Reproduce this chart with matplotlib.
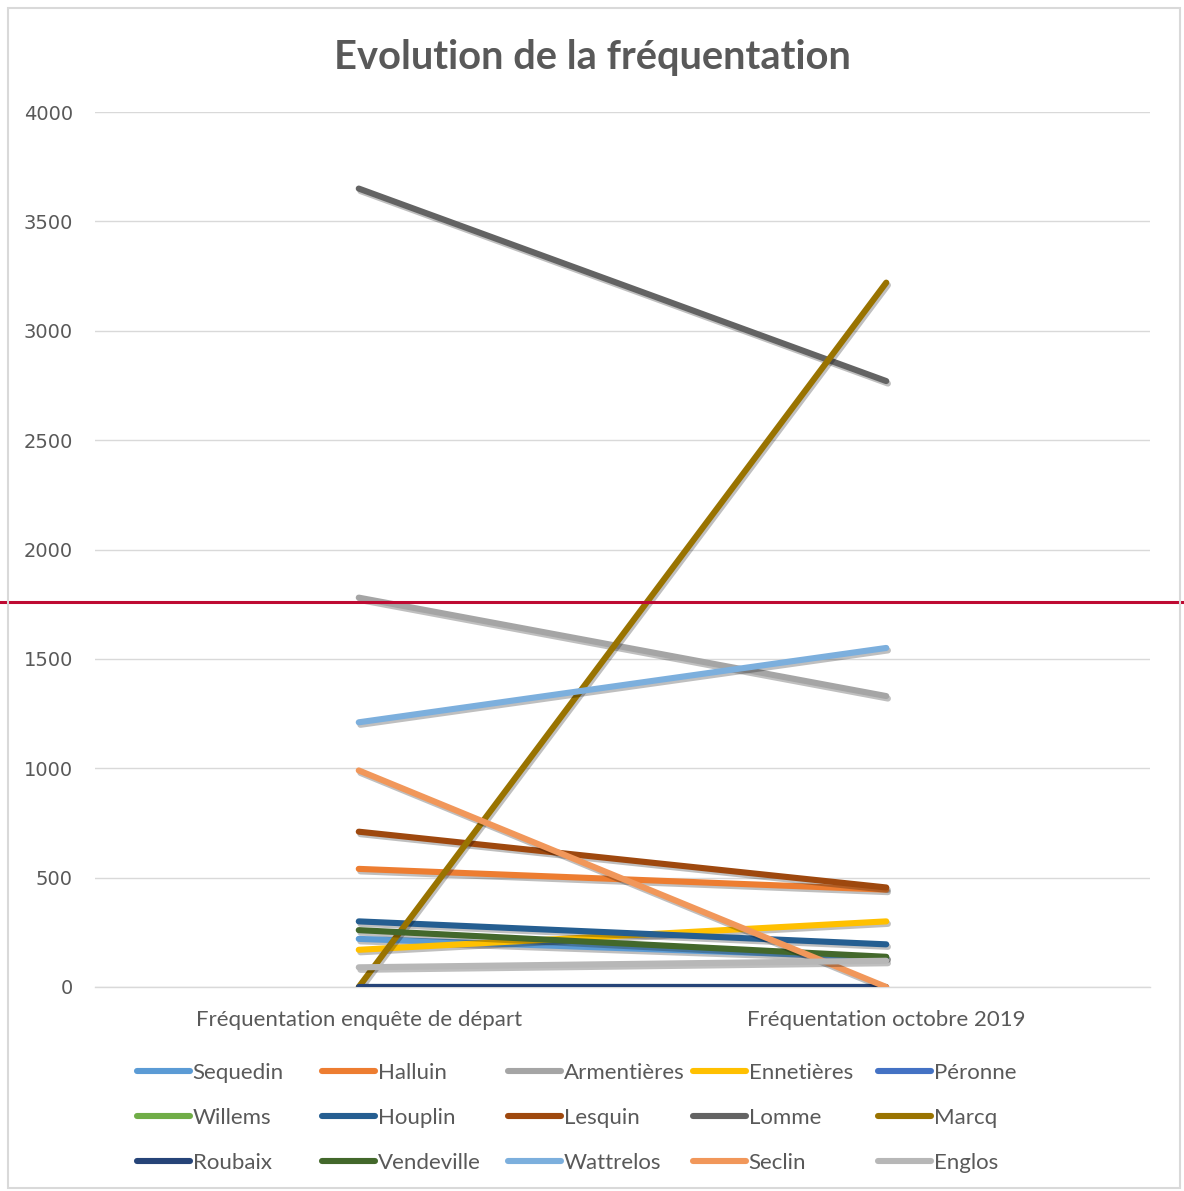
import matplotlib
matplotlib.use("Agg")
import matplotlib.pyplot as plt
import matplotlib.patheffects as pe
from matplotlib.lines import Line2D
from matplotlib.patches import Rectangle

# Survey points
periods = ["Fréquentation enquête de départ", "Fréquentation octobre 2019"]

# Attendance per site: (start survey, October 2019)
sites = ["Sequedin", "Halluin", "Armentières", "Ennetières", "Péronne",
         "Willems", "Houplin", "Lesquin", "Lomme", "Marcq",
         "Roubaix", "Vendeville", "Wattrelos", "Seclin", "Englos"]
start_values = [220, 540, 1780, 170, 0,
                0, 300, 710, 3650, 0,
                0, 260, 1210, 990, 90]
oct2019_values = [135, 445, 1330, 300, 0,
                  0, 195, 455, 2770, 3220,
                  0, 138, 1550, 0, 120]
colors = ["#5B9BD5", "#ED7D31", "#A5A5A5", "#FFC000", "#4472C4",
          "#70AD47", "#255E91", "#9E480E", "#636363", "#997300",
          "#264478", "#43682B", "#7CAFDD", "#F1975A", "#B7B7B7"]

reference_level = 1760
y_ticks = [0, 500, 1000, 1500, 2000, 2500, 3000, 3500, 4000]

W, H = 1184, 1191
fig = plt.figure(figsize=(W / 100, H / 100), dpi=100)
fig.patch.set_facecolor("white")

# Chart frame
fig.add_artist(Rectangle((8 / W, 3 / H), 1172 / W, 1180 / H,
                         transform=fig.transFigure, fill=False,
                         edgecolor="#D9D9D9", linewidth=1.5))

ax = fig.add_axes([95 / W, 204 / H, 1055 / W, 875 / H])
ax.set_xlim(-0.5, 1.5)
ax.set_ylim(0, 4000)

shadow = [pe.SimpleLineShadow(offset=(1.2, -1.8), shadow_color="black", alpha=0.25),
          pe.Normal()]

x = [0, 1]
handles = []
for name, a, b, c in zip(sites, start_values, oct2019_values, colors):
    ln, = ax.plot(x, [a, b], color=c, linewidth=4.4, solid_capstyle="round",
                  path_effects=shadow, label=name, zorder=3)
    handles.append(ln)

ax.set_yticks(y_ticks)
ax.set_yticklabels([str(v) for v in y_ticks], fontsize=14,
                   color="#595959", family="DejaVu Sans")
ax.set_xticks(x)
ax.set_xticklabels(periods, fontsize=16, color="#595959", family="Lato")
ax.tick_params(axis="both", length=0)
ax.tick_params(axis="y", pad=16)
ax.tick_params(axis="x", pad=16.5)
ax.grid(axis="y", color="#D9D9D9", linewidth=1)
ax.set_axisbelow(True)
for s in ["top", "right", "left"]:
    ax.spines[s].set_visible(False)
ax.spines["bottom"].set_color("#D9D9D9")
ax.spines["bottom"].set_linewidth(1)

# Reference level across the whole chart
ax.axhline(reference_level, xmin=-95 / 1055, xmax=(W - 95) / 1055,
           color="#BE0A32", linewidth=2.2, clip_on=False, zorder=4)

fig.text(592 / W, 1 - 58 / H, "Evolution de la fréquentation",
         ha="center", va="center", fontsize=28.7, fontweight="bold",
         color="#595959", family="Lato")

# Legend: five evenly spaced columns, three rows each
col_x = [137, 322, 508, 693, 878]
for ci, cx in enumerate(col_x):
    hs = [handles[r * 5 + ci] for r in range(3)]
    proxies = [Line2D([], [], color=h.get_color(), linewidth=4.4,
                      solid_capstyle="round") for h in hs]
    leg = fig.legend(proxies, [h.get_label() for h in hs],
                     loc="upper left",
                     bbox_to_anchor=(cx / W, 1 - 1063 / H),
                     frameon=False, handlelength=2.4,
                     handletextpad=0.1, labelspacing=1.12,
                     borderpad=0, borderaxespad=0,
                     prop={"family": "Lato", "size": 16})
    for t in leg.get_texts():
        t.set_color("#595959")

fig.savefig("out.png", dpi=100, facecolor="white")
